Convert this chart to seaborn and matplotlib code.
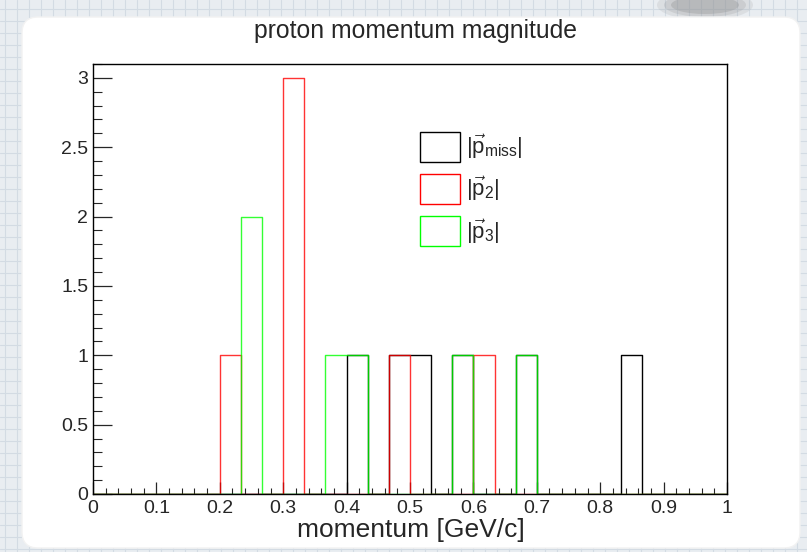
import numpy as np
import pandas as pd
import seaborn as sns
import matplotlib
matplotlib.use("Agg")
import matplotlib.pyplot as plt
from matplotlib.patches import Patch, FancyBboxPatch, Rectangle, Ellipse
from matplotlib.lines import Line2D
from matplotlib.ticker import MultipleLocator, FuncFormatter

# ---- data: estimated momentum per event (GeV/c), 6 events ----
p_miss = [0.42, 0.48, 0.52, 0.58, 0.68, 0.85]
p_2 = [0.21, 0.31, 0.31, 0.31, 0.48, 0.61]
p_3 = [0.25, 0.25, 0.38, 0.42, 0.58, 0.68]
series_labels = [r'$|\vec{\mathrm{p}}_{\mathrm{miss}}|$', r'$|\vec{\mathrm{p}}_{2}|$', r'$|\vec{\mathrm{p}}_{3}|$']
series_colors = ['#000000', '#ff0000', '#00ff00']
series_alpha = [1.0, 0.8, 0.8]
n_bins = 30
x_range = (0.0, 1.0)
title_text = "proton momentum magnitude"
xlabel_text = "momentum [GeV/c]"

sns.set_style("ticks")
plt.rcParams['font.family'] = ['Liberation Sans', 'DejaVu Sans']
plt.rcParams['mathtext.fontset'] = 'custom'
plt.rcParams['mathtext.rm'] = 'Liberation Sans'
plt.rcParams['mathtext.it'] = 'Liberation Sans'
plt.rcParams['mathtext.bf'] = 'Liberation Sans'

W, H = 807, 552
fig = plt.figure(figsize=(W / 100, H / 100), dpi=100)

# ---- background: graph paper + white card ----
fig.patches.append(Rectangle((0, 0), 1, 1, transform=fig.transFigure,
                             facecolor='#e9edf1', edgecolor='none', zorder=-10))
for gx in range(5, W, 12):
    fig.add_artist(Line2D([gx / W, gx / W], [0, 1], transform=fig.transFigure,
                          color='#d3dbe3', lw=0.8, zorder=-9))
for gy in range(3, H, 12):
    fig.add_artist(Line2D([0, 1], [gy / H, gy / H], transform=fig.transFigure,
                          color='#d3dbe3', lw=0.8, zorder=-9))
for k, a in enumerate([0.15, 0.2, 0.3]):
    fig.patches.append(Ellipse((705 / W, 1 - 5 / H), (96 - 14 * k) / W, (30 - 6 * k) / H,
                               transform=fig.transFigure, facecolor='#8c8c8c',
                               edgecolor='none', alpha=a, zorder=-8))
card = FancyBboxPatch((22 / W, 4 / H), (800 - 22) / W, (535 - 4) / H,
                      boxstyle="round,pad=0,rounding_size=0.02",
                      transform=fig.transFigure, facecolor='white',
                      edgecolor='#f2f2f2', lw=1, zorder=-7, mutation_aspect=W / H)
fig.patches.append(card)

# ---- axes ----
left, right, bottom, top = 93, 727, 494, 64
ax = fig.add_axes([left / W, 1 - bottom / H, (right - left) / W, (bottom - top) / H])
ax.set_facecolor('white')

for vals, col, al in zip([p_miss, p_2, p_3], series_colors, series_alpha):
    sns.histplot(x=vals, bins=n_bins, binrange=x_range, element='step', fill=False,
                 color=col, alpha=al, linewidth=1.0, ax=ax)

ax.set_xlim(*x_range)
ax.set_ylim(0, 3.1)
ax.set_ylabel('')

for s in ax.spines.values():
    s.set_linewidth(1.0)
    s.set_color('black')

ax.xaxis.set_major_locator(MultipleLocator(0.1))
ax.xaxis.set_minor_locator(MultipleLocator(0.02))
ax.yaxis.set_major_locator(MultipleLocator(0.5))
ax.yaxis.set_minor_locator(MultipleLocator(0.1))
fmt = FuncFormatter(lambda v, p: ('%g' % round(v, 3)))
ax.xaxis.set_major_formatter(fmt)
ax.yaxis.set_major_formatter(fmt)

ax.tick_params(axis='x', which='major', direction='in', length=8.6, width=0.9,
               labelsize=14, pad=4.5, top=False)
ax.tick_params(axis='x', which='minor', direction='in', length=4.3, width=0.8, top=False)
ax.tick_params(axis='y', which='major', direction='in', length=13.7, width=0.9,
               labelsize=14, pad=3.5, right=False)
ax.tick_params(axis='y', which='minor', direction='in', length=6.5, width=0.8, right=False)

ax.set_xlabel(xlabel_text, fontsize=19)
ax.xaxis.label.set_ha('right')
ax.xaxis.label.set_va('center')
ax.xaxis.set_label_coords((525 - left) / (right - left), (bottom - 530) / (bottom - top))

fig.text(415 / W, 1 - 31 / H, title_text, ha='center', va='center', fontsize=17.8)

# ---- legend ----
handles = [Patch(facecolor='white', edgecolor=c, linewidth=1.0) for c in series_colors]
fs = 16
leg = ax.legend(handles, series_labels, loc='upper left',
                bbox_to_anchor=(420 / W, 1 - 132 / H), bbox_transform=fig.transFigure,
                frameon=False, fontsize=fs, handlelength=1.8, handleheight=1.7,
                labelspacing=0.55, handletextpad=0.25, borderaxespad=0, borderpad=0)

fig.savefig('out.png', dpi=100, facecolor=fig.get_facecolor())
